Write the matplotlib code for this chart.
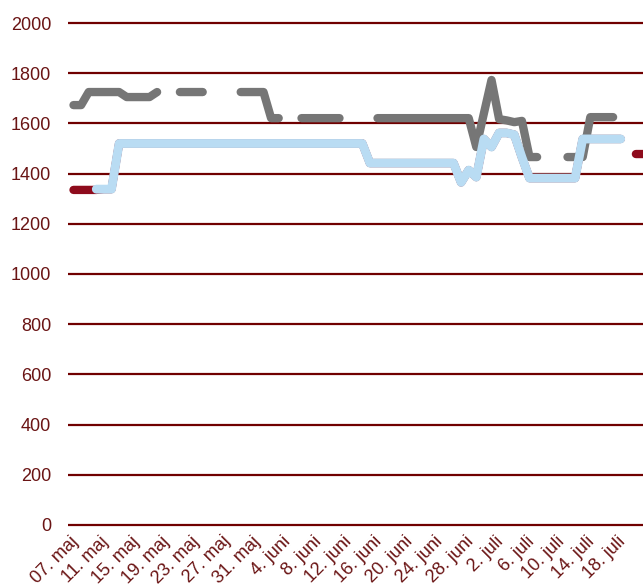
import numpy as np
import matplotlib
matplotlib.use("Agg")
import matplotlib.pyplot as plt
import matplotlib.transforms as mtrans

nan = np.nan

# one point per day, day 0 = 07. maj
tick_days = [0, 4, 8, 12, 16, 20, 24, 28, 32, 36, 40, 44, 48, 52, 56, 60, 64, 68, 72]
tick_labels = ["07. maj", "11. maj", "15. maj", "19. maj", "23. maj", "27. maj", "31. maj",
               "4. juni", "8. juni", "12. juni", "16. juni", "20. juni", "24. juni", "28. juni",
               "2. juli", "6. juli", "10. juli", "14. juli", "18. juli"]

gray = [1673, 1673, 1725, 1725, 1725, 1725, 1725, 1705, 1705, 1705,
        1705, 1725, nan, nan, 1725, 1725, 1725, 1725, nan, nan,
        nan, nan, 1725, 1725, 1725, 1725, 1621, 1621, nan, nan,
        1621, 1621, 1621, 1621, 1621, 1621, nan, nan, nan, nan,
        1621, 1621, 1621, 1621, 1621, 1621, 1621, 1621, 1621, 1621,
        1621, 1621, 1621, 1506, 1640, 1773, 1617, 1612, 1605, 1610,
        1466, 1466, nan, nan, nan, 1466, 1466, 1466, 1625, 1625,
        1625, 1625, nan, nan, nan, nan]

blue = [nan, nan, nan, 1338, 1338, 1338, 1520, 1520, 1520, 1520,
        1520, 1520, 1520, 1520, 1520, 1520, 1520, 1520, 1520, 1520,
        1520, 1520, 1520, 1520, 1520, 1520, 1520, 1520, 1520, 1520,
        1520, 1520, 1520, 1520, 1520, 1520, 1520, 1520, 1520, 1442,
        1442, 1442, 1442, 1442, 1442, 1442, 1442, 1442, 1442, 1442,
        1442, 1365, 1414, 1386, 1538, 1506, 1562, 1562, 1555, 1465,
        1382, 1382, 1382, 1382, 1382, 1382, 1382, 1538, 1538, 1538,
        1538, 1538, 1538, nan, nan, nan]

red = [1335, 1335, 1335, 1335, 1338, 1338, 1520, 1520, 1520, 1520,
       1520, 1520, 1520, 1520, 1520, 1520, 1520, 1520, 1520, 1520,
       1520, 1520, 1520, 1520, 1520, 1520, 1520, 1520, 1520, 1520,
       1520, 1520, 1520, 1520, 1520, 1520, 1520, 1520, 1520, 1442,
       1442, 1442, 1442, 1442, 1442, 1442, 1442, 1442, 1442, 1442,
       1442, 1365, 1414, 1386, 1538, 1506, 1562, 1562, 1555, 1465,
       1382, 1382, 1382, 1382, 1382, 1382, 1382, 1538, 1538, 1538,
       1538, 1538, 1538, nan, 1478, 1478]

days = np.arange(len(gray))

plt.rcParams['font.family'] = ['Liberation Sans', 'DejaVu Sans']
fig = plt.figure(figsize=(6.43, 5.87), dpi=100)
W, H = 643, 587
# pixel layout: 0 at y=525, 2000 at y=23, day 0 at x=73.5, 7.6 px/day
ax = fig.add_axes([68 / W, (H - 530) / H, 1 - 68 / W, (530 - 18) / H])
ax.set_ylim(-20, 2020)
ax.set_xlim(-5.5 / 7.6, (643 - 73.5) / 7.6)

grid_c = "#700000"
for v in range(0, 2001, 200):
    ax.axhline(v, color=grid_c, lw=1.6, zorder=1)

lw = 6.0
ax.plot(days, red, color="#8e0b1c", lw=lw, solid_capstyle="round", solid_joinstyle="round", zorder=2)
ax.plot(days, gray, color="#767676", lw=lw, solid_capstyle="round", solid_joinstyle="round", zorder=3)
ax.plot(days, blue, color="#b9dcf3", lw=lw + 0.4, solid_capstyle="round", solid_joinstyle="round", zorder=4)

for s in ax.spines.values():
    s.set_visible(False)
ax.set_yticks(range(0, 2001, 200))
ax.tick_params(axis="y", length=0, pad=12, labelsize=13, labelcolor="#6a1414")
ax.set_xticks(tick_days)
ax.set_xticklabels(tick_labels, rotation=45, ha="right", rotation_mode="anchor")
ax.tick_params(axis="x", length=0, pad=2, labelsize=13, labelcolor="#6a1414")
shift = mtrans.ScaledTranslation(-4 / 100, 0, fig.dpi_scale_trans)
for lab in ax.get_xticklabels():
    lab.set_transform(lab.get_transform() + shift)

fig.savefig("out.png", dpi=100)
